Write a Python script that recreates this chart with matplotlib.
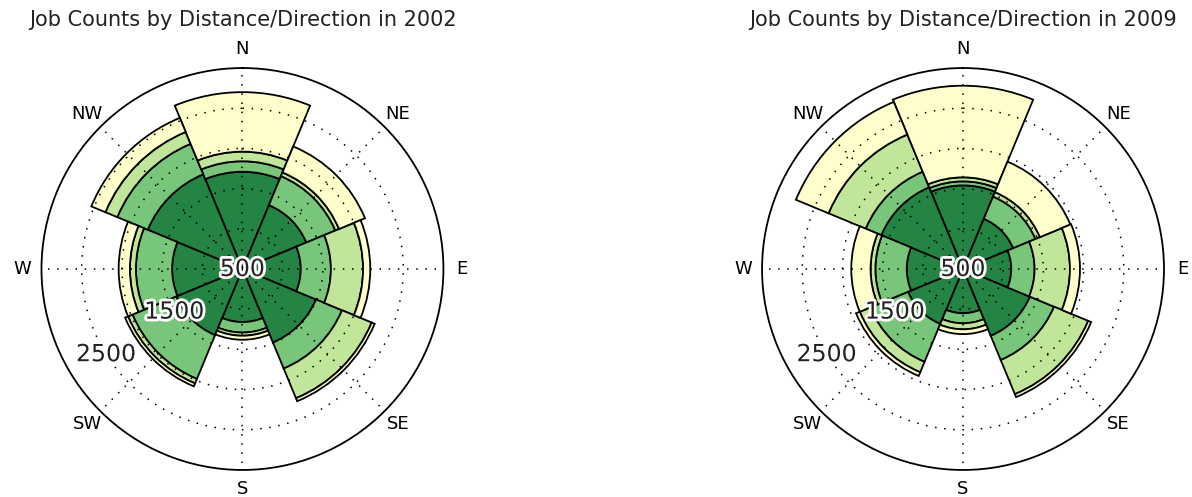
import numpy as np
import matplotlib.pyplot as plt
import matplotlib.patheffects as pe

# compass directions (clockwise from north)
directions = ["N", "NE", "E", "SE", "S", "SW", "W", "NW"]
direction_deg = [0, 45, 90, 135, 180, 225, 270, 315]

# job counts per distance band, stacked outward
near_2002 = [1710, 1360, 1225, 1490, 1160, 1390, 1375, 1775]
mid_2002 = [130, 390, 375, 350, 130, 590, 450, 410]
far_2002 = [120, 50, 400, 400, 40, 60, 75, 160]
vfar_2002 = [740, 350, 90, 40, 50, 40, 140, 190]

near_2009 = [1540, 1175, 1100, 1400, 1050, 1240, 1200, 1600]
mid_2009 = [50, 300, 290, 325, 125, 510, 390, 210]
far_2009 = [50, 60, 440, 460, 75, 140, 60, 500]
vfar_2009 = [1140, 410, 125, 40, 60, 50, 240, 440]

band_colors = ["#238443", "#78c679", "#c2e699", "#ffffcc"]

r_min, r_max = 500, 3000
r_ticks = [500, 1000, 1500, 2000, 2500]
r_labels = ["500", "", "1500", "", "2500"]


def rose(ax, bands, year):
    theta = np.radians(direction_deg)
    width = 2 * np.pi / len(directions)
    cum = np.zeros(len(directions))
    for counts, color in zip(bands, band_colors):
        top = cum + np.array(counts)
        # the radial axis starts at r_min, so clip the segment bottoms there
        bot = np.maximum(cum, r_min)
        ax.bar(theta, top - bot, width=width, bottom=bot, color=color,
               edgecolor="black", linewidth=1.3, align="center")
        cum = top

    ax.set_theta_zero_location("N")
    ax.set_theta_direction(-1)
    ax.set_ylim(r_min, r_max)
    ax.set_thetagrids(direction_deg, directions, fontsize=13)
    ax.tick_params(axis="x", pad=3)
    ax.set_rgrids(r_ticks, [""] * len(r_ticks))
    ax.grid(True, linestyle=(0, (1, 5)), color="black", linewidth=1.1)
    ax.spines["polar"].set_linewidth(1.3)

    # radial labels drawn along one ray, with a white halo
    label_theta = np.radians(238)
    for r, lab in zip(r_ticks, r_labels):
        if lab:
            ax.text(label_theta, r, lab, fontsize=17, ha="center",
                    va="center", zorder=10, color="#222222",
                    path_effects=[pe.withStroke(linewidth=4,
                                                foreground="white")])

    ax.set_title("Job Counts by Distance/Direction in %d" % year,
                 fontsize=15, y=1.105, pad=0, color="#222222")


fig = plt.figure(figsize=(11.92, 4.97), dpi=100)
ax1 = fig.add_axes([0.0348, 0.0543, 0.3372, 0.8089], projection="polar")
ax2 = fig.add_axes([0.6393, 0.0543, 0.3372, 0.8089], projection="polar")

rose(ax1, [near_2002, mid_2002, far_2002, vfar_2002], 2002)
rose(ax2, [near_2009, mid_2009, far_2009, vfar_2009], 2009)

fig.savefig("out.png", dpi=100)
